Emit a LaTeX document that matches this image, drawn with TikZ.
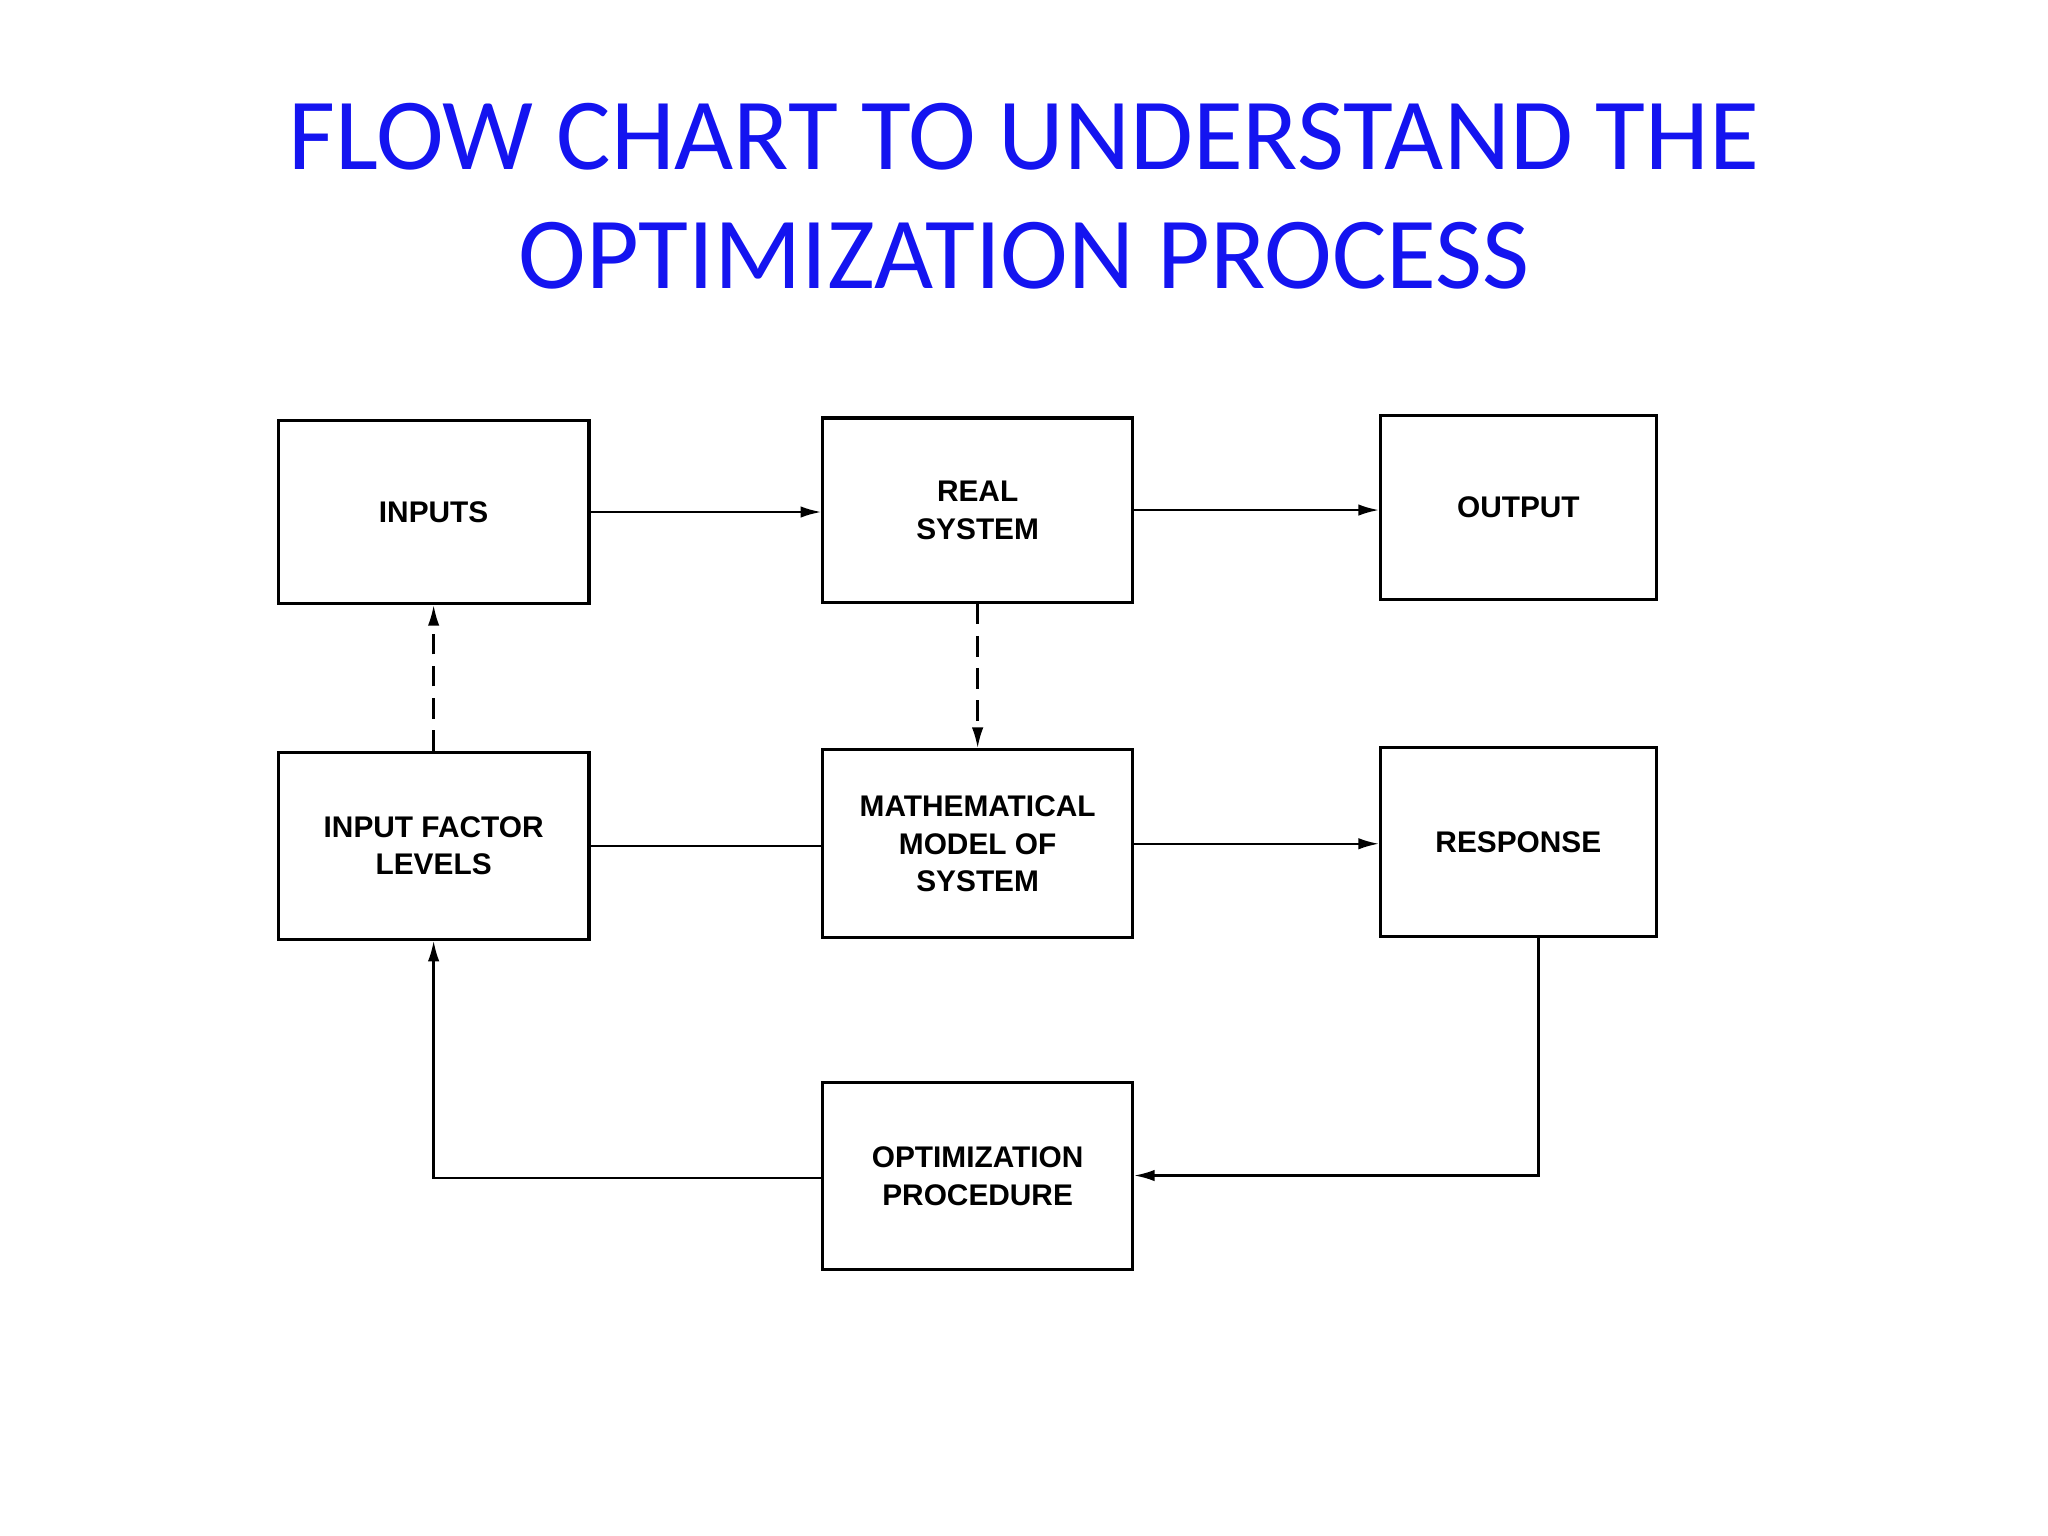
\documentclass[tikz,border=0pt]{standalone}
\usepackage{fontspec}
\setmainfont{Liberation Sans}
\newfontfamily\titlefont{Carlito}
\usetikzlibrary{arrows.meta}
\definecolor{tblue}{RGB}{20,20,240}
\begin{document}
\begin{tikzpicture}[x=0.02cm,y=-0.02cm,
  box/.style={draw,line width=1.4pt,inner sep=0pt,align=center,font=\bfseries\fontsize{13}{16.5}\selectfont},
  conn/.style={line width=1pt},
  arr/.style={conn,-{Latex[length=9pt,width=5pt]}}]
\useasboundingbox (0,0) rectangle (1568,1176);
\node[tblue,font=\titlefont\fontsize{44.5}{52}\selectfont,align=center] (title) at (784,150) {FLOW CHART TO UNDERSTAND THE\\OPTIMIZATION PROCESS};
\node[box,minimum width=238*0.02cm,minimum height=140*0.02cm] (in) at (332,392) {INPUTS};
\node[box,minimum width=237*0.02cm,minimum height=141*0.02cm] (real) at (748.5,390.5) {REAL\\SYSTEM};
\node[box,minimum width=211*0.02cm,minimum height=141*0.02cm] (out) at (1162.5,388.5) {OUTPUT};
\node[box,minimum width=238*0.02cm,minimum height=143*0.02cm] (ifl) at (332,647.5) {INPUT FACTOR\\LEVELS};
\node[box,minimum width=237*0.02cm,minimum height=144*0.02cm] (math) at (748.5,646) {MATHEMATICAL\\MODEL OF\\SYSTEM};
\node[box,minimum width=211*0.02cm,minimum height=145*0.02cm] (resp) at (1162.5,644.5) {RESPONSE};
\node[box,minimum width=237*0.02cm,minimum height=143*0.02cm] (opt) at (748.5,900.5) {OPTIMIZATION\\PROCEDURE};
\draw[arr] (in.east) -- (real.west |- in.east);
\draw[arr] (real.east) -- (out.west |- real.east);
\draw[arr,dashed,dash pattern=on 9pt off 5pt] (real.south) -- (math.north);
\draw[arr,dashed,dash pattern=on 9pt off 5pt] (ifl.north) -- (in.south);
\draw[conn] (ifl.east) -- (math.west |- ifl.east);
\draw[arr] (math.east) -- (resp.west |- math.east);
\coordinate (c1) at (1178,900);
\coordinate (c2) at (332,902);
\draw[arr] (1178,717) -- (c1) -- (opt.east |- c1);
\draw[arr] (opt.west |- c2) -- (c2) -- (ifl.south);
\end{tikzpicture}
\end{document}
